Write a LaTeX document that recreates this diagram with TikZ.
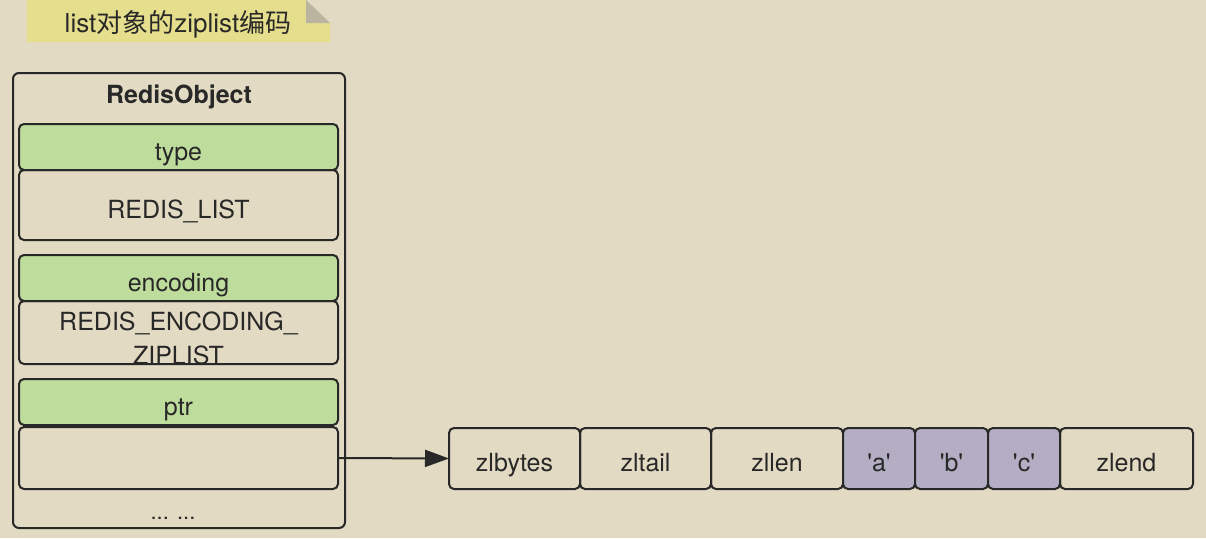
\documentclass[tikz,border=0pt]{standalone}
\usepackage{fontspec}
\setmainfont{TeX Gyre Heros}
\newfontfamily\cjk{Noto Sans CJK SC}
\usetikzlibrary{arrows.meta,positioning}
\definecolor{bgcol}{RGB}{226,218,194}
\definecolor{notecol}{RGB}{229,222,140}
\definecolor{foldcol}{RGB}{186,180,160}
\definecolor{greencol}{RGB}{190,220,155}
\definecolor{purplecol}{RGB}{180,174,196}
\definecolor{inkcol}{RGB}{40,40,40}
\tikzset{
  txt/.style={text=inkcol, inner sep=0pt, font=\fontsize{25}{30}\selectfont},
  cell/.style={txt, draw=inkcol, line width=2pt, rounded corners=5pt, outer sep=0pt,
    text height=28pt, text depth=2pt},
  field/.style={cell, fill=greencol, minimum width=319pt, minimum height=46pt},
  value/.style={cell, minimum width=319pt, minimum height=64pt},
  zlcell/.style={cell, minimum height=61pt}
}
\begin{document}
\begin{tikzpicture}[x=1pt,y=-1pt]
		\useasboundingbox (0,0) rectangle (1206,538);
		\fill[bgcol] (0,0) rectangle (1206,538);
		% title note with folded corner
		\fill[notecol] (27,0) -- (306,0) -- (330,23) -- (330,42) -- (27,42) -- cycle;
		\fill[foldcol] (306,0) -- (330,23) -- (306,23) -- cycle;
		\node[txt, anchor=base, font=\fontsize{26}{30}\selectfont] (title) at (178,32) {list{\cjk 对象的}ziplist{\cjk 编码}};
		% redis object
		\node[cell, rounded corners=6pt, minimum width=332pt, minimum height=455pt] (obj) at (179,300.5) {};
		\node[txt, anchor=base, font=\bfseries\fontsize{25}{30}\selectfont] (name) at (179,103) {RedisObject};
		\node[field] (type) at (178.5,147) {type};
		\node[value, minimum height=70pt] (typeval) at (178.5,205) {REDIS\_LIST};
		\node[field] (enc) at (178.5,278) {encoding};
		\node[txt, anchor=base] (enctop) at (178.5,330) {REDIS\_ENCODING\_};
		\node[txt, anchor=base] (encbot) at (178.5,364) {ZIPLIST};
		\node[value, minimum height=63pt] (encval) at (178.5,332.5) {};
		\node[field] (ptr) at (178.5,402) {ptr};
		\node[value, minimum height=62pt] (ptrval) at (178.5,458) {};
		\node[txt, anchor=base, font=\fontsize{22}{26}\selectfont] (more) at (173,519) {... ...};
		% ziplist
		\node[zlcell, minimum width=131pt] (zlbytes) at (514.5,458.5) {zlbytes};
		\node[zlcell, minimum width=131pt, right=0pt of zlbytes] (zltail) {zltail};
		\node[zlcell, minimum width=132pt, right=0pt of zltail] (zllen) {zllen};
		\node[zlcell, fill=purplecol, minimum width=72pt, right=0pt of zllen] (a) {\textquotesingle a\textquotesingle};
		\node[zlcell, fill=purplecol, minimum width=73pt, right=0pt of a] (b) {\textquotesingle b\textquotesingle};
		\node[zlcell, fill=purplecol, minimum width=72pt, right=0pt of b] (c) {\textquotesingle c\textquotesingle};
		\node[zlcell, minimum width=133pt, right=0pt of c] (zlend) {zlend};
		\draw[inkcol, line width=2pt, -{Triangle[length=24pt,width=17pt]}] (ptrval.east) -- (zlbytes.west);
	\end{tikzpicture}
\end{document}
